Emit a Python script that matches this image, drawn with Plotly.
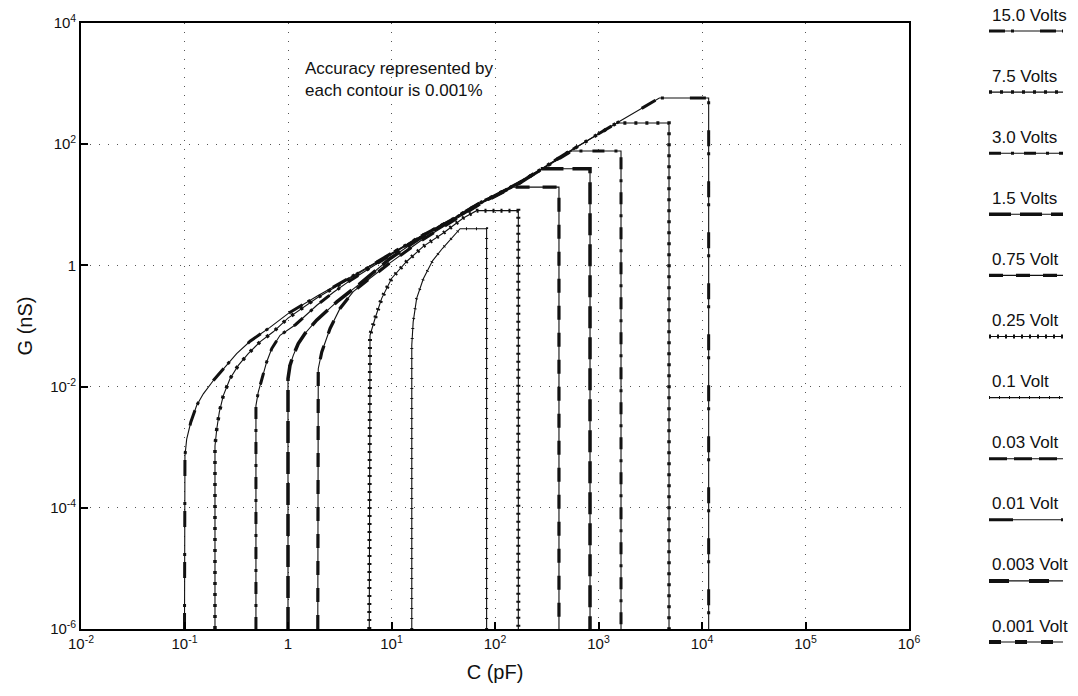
import plotly.graph_objects as go

# Accuracy contours: capacitance C (pF) and conductance G (nS) along each boundary
C_15V = [0.1, 0.1, 0.101, 0.105, 0.115, 0.131, 0.152, 0.190, 0.246, 0.319, 0.43, 0.67,
         1.0, 1.9, 3.97, 9.9, 18.8, 36.7, 71.6, 175, 531, 1500, 3870, 11600, 11600]
G_15V = [1e-6, 6.4e-4, 7.2e-4, 1.36e-3, 2.58e-3, 4.86e-3, 7.6e-3, 0.0126, 0.021, 0.035, 0.056, 0.095,
         0.16, 0.31, 0.63, 1.58, 2.98, 5.5, 10.8, 23.6, 77.5, 224, 577, 577, 1e-6]

C_7V5 = [0.197, 0.197, 0.205, 0.217, 0.237, 0.275, 0.331, 0.413, 0.536, 0.721,
         1.0, 1.9, 3.97, 9.9, 18.8, 36.7, 71.6, 175, 531, 1500, 4800, 4800]
G_7V5 = [1e-6, 1.05e-3, 2.0e-3, 3.78e-3, 7.1e-3, 0.0135, 0.0224, 0.035, 0.0547, 0.0802,
         0.135, 0.29, 0.61, 1.55, 2.95, 5.45, 10.7, 23.4, 77, 224, 224, 1e-6]

C_3V0 = [0.49, 0.49, 0.516, 0.557, 0.622, 0.697, 0.838, 1.18, 1.9, 2.75, 3.97,
         9.9, 18.8, 36.7, 71.6, 175, 551, 1650, 1650]
G_3V0 = [1e-6, 4.86e-3, 8.1e-3, 0.0135, 0.0255, 0.0424, 0.0703, 0.105, 0.22, 0.36, 0.56,
         1.5, 2.9, 5.4, 10.6, 23.2, 77.4, 77.4, 1e-6]

C_1V5 = [1.0, 1.0, 1.045, 1.125, 1.257, 1.459, 1.89, 2.96, 4.97, 9.7, 18.8, 36.7,
         71.6, 175, 283, 828, 828]
G_1V5 = [1e-6, 0.0135, 0.0224, 0.0328, 0.0513, 0.0752, 0.125, 0.25, 0.5, 1.3, 2.8, 5.4,
         10.5, 23.2, 39.4, 39.4, 1e-6]

C_0V75 = [1.94, 1.94, 1.96, 2.12, 2.37, 2.55, 3.18, 4.27, 6.2, 9.68, 18.8, 36.7, 71.6, 150, 415, 415]
G_0V75 = [1e-6, 9.2e-3, 0.0197, 0.0373, 0.0621, 0.091, 0.195, 0.369, 0.614, 1.1, 2.5, 5.1, 10.3,
          19.6, 19.6, 1e-6]

C_0V25 = [6.1, 6.1, 6.2, 6.93, 8.04, 10.05, 14.0, 20.3, 31.7, 49.4, 66.5, 168, 168]
G_0V25 = [1e-6, 0.062, 0.0703, 0.133, 0.286, 0.614, 1.16, 2.06, 3.42, 6.07, 8.0, 8.0, 1e-6]

C_0V1 = [15.7, 15.7, 16.2, 17.5, 20.3, 25, 31, 39, 46, 83, 83]
G_0V1 = [1e-6, 0.048, 0.117, 0.286, 0.6, 1.2, 1.9, 2.9, 4.03, 4.03, 1e-6]

# Legend entries (top to bottom)
volt_labels = ["15.0 Volts", "7.5 Volts", "3.0 Volts", "1.5 Volts", "0.75 Volt", "0.25 Volt",
               "0.1 Volt", "0.03 Volt", "0.01 Volt", "0.003 Volt", "0.001 Volt"]

contours = {
    "15.0 Volts": (C_15V, G_15V),
    "7.5 Volts": (C_7V5, G_7V5),
    "3.0 Volts": (C_3V0, G_3V0),
    "1.5 Volts": (C_1V5, G_1V5),
    "0.75 Volt": (C_0V75, G_0V75),
    "0.25 Volt": (C_0V25, G_0V25),
    "0.1 Volt": (C_0V1, G_0V1),
}

x_ticks = [1e-2, 1e-1, 1, 1e1, 1e2, 1e3, 1e4, 1e5, 1e6]
x_ticktext = ["10<sup>-2</sup>", "10<sup>-1</sup>", "1", "10<sup>1</sup>", "10<sup>2</sup>",
              "10<sup>3</sup>", "10<sup>4</sup>", "10<sup>5</sup>", "10<sup>6</sup>"]
y_ticks = [1e-6, 1e-4, 1e-2, 1, 1e2, 1e4]
y_ticktext = ["10<sup>-6</sup>", "10<sup>-4</sup>", "10<sup>-2</sup>", "1", "10<sup>2</sup>", "10<sup>4</sup>"]

# Line style per voltage: thin base line plus a heavier dashed overlay
STYLES = {
    "15.0 Volts": ("16px,6px,3px,26px", 3.0),
    "7.5 Volts": ("3px,8px", 3.5),
    "3.0 Volts": ("12px,10px,3px,10px", 3.0),
    "1.5 Volts": ("22px,9px", 3.5),
    "0.75 Volt": ("14px,13px", 3.2),
    "0.25 Volt": ("2px,6px", 4.0),
    "0.1 Volt": ("1px,9px", 3.0),
    "0.03 Volt": ("18px,7px", 3.0),
    "0.01 Volt": ("24px,48px", 3.0),
    "0.003 Volt": ("20px,20px", 4.0),
    "0.001 Volt": ("12px,14px", 4.0),
}
INK = "#111111"
FONT = "Liberation Sans, Arial, Helvetica, sans-serif"

fig = go.Figure()
for name, (cs, gs) in contours.items():
    dash, width = STYLES[name]
    fig.add_trace(go.Scatter(x=cs, y=gs, mode="lines", name=name,
                             line=dict(color=INK, width=1.1), hoverinfo="skip"))
    fig.add_trace(go.Scatter(x=cs, y=gs, mode="lines", name=name,
                             line=dict(color=INK, width=width, dash=dash), hoverinfo="skip"))

W, H = 1078, 696
L, R, T, B = 81, 169, 23, 67
pw, ph = W - L - R, H - T - B


def px(xp):
    return (xp - L) / pw


def py(yp):
    return (H - B - yp) / ph


shapes = []
annotations = []
for i, name in enumerate(volt_labels):
    ytxt = 15 + 61.1 * i
    yln = 31 + 61.1 * i
    annotations.append(dict(x=px(990), y=py(ytxt), xref="paper", yref="paper", text=name,
                            showarrow=False, xanchor="left", yanchor="middle",
                            font=dict(family=FONT, size=17, color=INK)))
    dash, width = STYLES[name]
    shapes.append(dict(type="line", xref="paper", yref="paper", x0=px(989), x1=px(1063),
                       y0=py(yln), y1=py(yln), line=dict(color=INK, width=1.1)))
    shapes.append(dict(type="line", xref="paper", yref="paper", x0=px(989), x1=px(1063),
                       y0=py(yln), y1=py(yln), line=dict(color=INK, width=width, dash=dash)))

annotations.append(dict(x=px(303), y=py(79), xref="paper", yref="paper",
                        text="Accuracy represented by<br>each contour is 0.001%",
                        showarrow=False, xanchor="left", yanchor="middle", align="left",
                        font=dict(family=FONT, size=17, color=INK)))

axis_common = dict(
    type="log", showgrid=True, gridcolor="#555555", griddash="1px,8px", gridwidth=1,
    showline=True, linecolor="black", linewidth=1.6, mirror=True,
    ticks="inside", ticklen=7, tickwidth=1.5, tickcolor="black", zeroline=False,
    tickfont=dict(family=FONT, size=15, color=INK),
)

fig.update_xaxes(range=[-2, 6], tickvals=x_ticks, ticktext=x_ticktext,
                 title=dict(text="C (pF)", font=dict(family=FONT, size=20, color=INK), standoff=14),
                 **axis_common)
fig.update_yaxes(range=[-6, 4], tickvals=y_ticks, ticktext=y_ticktext,
                 title=dict(text="G (nS)", font=dict(family=FONT, size=20, color=INK), standoff=12),
                 **axis_common)

fig.update_layout(width=W, height=H, margin=dict(l=L, r=R, t=T, b=B),
                  plot_bgcolor="white", paper_bgcolor="white", showlegend=False,
                  shapes=shapes, annotations=annotations,
                  font=dict(family=FONT, color=INK))

fig.write_html("out.html")
